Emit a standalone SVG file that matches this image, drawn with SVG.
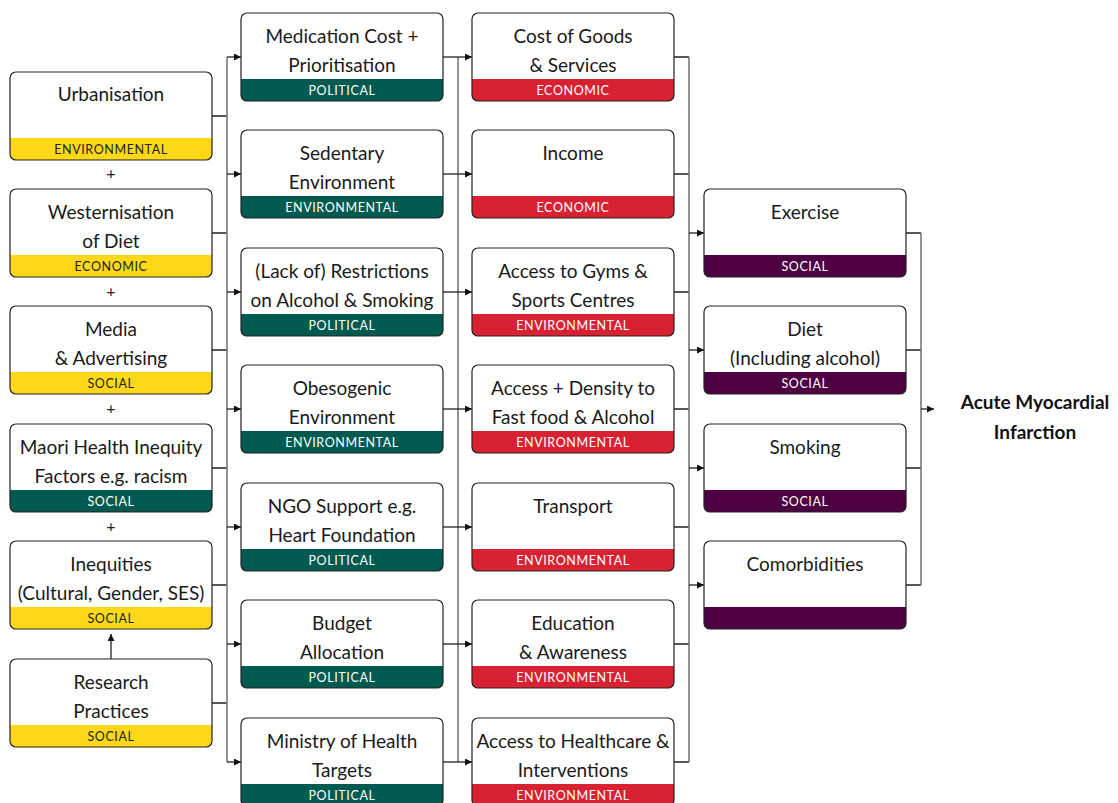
<svg xmlns="http://www.w3.org/2000/svg" width="1118" height="803" viewBox="0 0 1118 803">
  <style>
    .box { fill: none; stroke: #222; stroke-width: 1.2; }
    .bg { fill: #fff; }
    .yellow { fill: #FDD816; }
    .teal { fill: #005A50; }
    .red { fill: #D92231; }
    .purple { fill: #4D0042; }
    .title { font-family: Lato, "Open Sans", sans-serif; font-size: 19px; fill: #1a1a1a; text-anchor: middle; }
    .tag { font-family: Lato, "Open Sans", sans-serif; font-size: 12.5px; letter-spacing: 0.6px; text-anchor: middle; fill: #fff; }
    .tag.dark { fill: #222; }
    .plus { font-family: Lato, "Open Sans", sans-serif; font-size: 16px; fill: #222; text-anchor: middle; }
    .goal { font-family: Lato, "Open Sans", sans-serif; font-size: 19px; font-weight: bold; fill: #111; text-anchor: middle; }
    .stub { stroke: #222; stroke-width: 1.3; fill: none; }
    .bus { stroke: #777; stroke-width: 1.6; fill: none; }
  </style>
  <defs>
    <marker id="arrow" viewBox="0 0 8 8" refX="8" refY="4" markerWidth="7" markerHeight="7" markerUnits="userSpaceOnUse" orient="auto">
      <path d="M0,0 L8,4 L0,8 Z" fill="#111"/>
    </marker>
    <!-- band shape: bottom 22px of a 202x88 card, rounded at the bottom corners -->
    <path id="band" d="M0,66 H202 V82 A6,6 0 0 1 196,88 H6 A6,6 0 0 1 0,82 Z"/>
    <rect id="frame" x="0" y="0" width="202" height="88" rx="6" ry="6"/>
  </defs>

  <rect width="1118" height="803" fill="#fff"/>

  <!-- connectors -->
  <g id="connectors">
    <!-- column 1 into the first bus -->
    <path class="stub" d="M212,116 H227 M212,233 H227 M212,350 H227 M212,468 H227 M212,585 H227 M212,703 H227"/>
    <line class="bus" x1="227" y1="57" x2="227" y2="762"/>
    <g class="stub" marker-end="url(#arrow)">
      <line x1="227" y1="57" x2="241" y2="57"/>
      <line x1="227" y1="174" x2="241" y2="174"/>
      <line x1="227" y1="292" x2="241" y2="292"/>
      <line x1="227" y1="409" x2="241" y2="409"/>
      <line x1="227" y1="527" x2="241" y2="527"/>
      <line x1="227" y1="644" x2="241" y2="644"/>
      <line x1="227" y1="762" x2="241" y2="762"/>
    </g>
    <!-- column 2 into column 3 -->
    <line class="bus" x1="458" y1="57" x2="458" y2="762"/>
    <g class="stub" marker-end="url(#arrow)">
      <line x1="443" y1="57" x2="472" y2="57"/>
      <line x1="443" y1="174" x2="472" y2="174"/>
      <line x1="443" y1="292" x2="472" y2="292"/>
      <line x1="443" y1="409" x2="472" y2="409"/>
      <line x1="443" y1="527" x2="472" y2="527"/>
      <line x1="443" y1="644" x2="472" y2="644"/>
      <line x1="443" y1="762" x2="472" y2="762"/>
    </g>
    <!-- column 3 into column 4 -->
    <path class="stub" d="M674,57 H689 M674,174 H689 M674,292 H689 M674,409 H689 M674,527 H689 M674,644 H689 M674,762 H689"/>
    <line class="bus" x1="689" y1="57" x2="689" y2="762"/>
    <g class="stub" marker-end="url(#arrow)">
      <line x1="689" y1="233" x2="704" y2="233"/>
      <line x1="689" y1="350" x2="704" y2="350"/>
      <line x1="689" y1="468" x2="704" y2="468"/>
      <line x1="689" y1="585" x2="704" y2="585"/>
    </g>
    <!-- column 4 into the outcome -->
    <path class="stub" d="M905,233 H921 M905,350 H921 M905,468 H921 M905,585 H921"/>
    <line class="bus" x1="921" y1="233" x2="921" y2="585"/>
    <line class="stub" x1="921" y1="409" x2="934" y2="409" marker-end="url(#arrow)"/>
    <!-- research practices feeding inequities -->
    <line class="stub" x1="111" y1="659" x2="111" y2="634" marker-end="url(#arrow)"/>
  </g>

  <!-- column 1 -->
  <g id="urbanisation" transform="translate(10,72)">
    <use href="#frame" class="bg"/><use href="#band" class="yellow"/><use href="#frame" class="box"/>
    <text class="title" x="101" y="28.5">Urbanisation</text>
    <text class="tag dark" x="101" y="81.5">ENVIRONMENTAL</text>
  </g>
  <g id="westernisation" transform="translate(10,189)">
    <use href="#frame" class="bg"/><use href="#band" class="yellow"/><use href="#frame" class="box"/>
    <text class="title" x="101" y="29.5">Westernisation</text>
    <text class="title" x="101" y="58.5">of Diet</text>
    <text class="tag dark" x="101" y="81.5">ECONOMIC</text>
  </g>
  <g id="media" transform="translate(10,306)">
    <use href="#frame" class="bg"/><use href="#band" class="yellow"/><use href="#frame" class="box"/>
    <text class="title" x="101" y="29.5">Media</text>
    <text class="title" x="101" y="58.5">&amp; Advertising</text>
    <text class="tag dark" x="101" y="81.5">SOCIAL</text>
  </g>
  <g id="maori-health" transform="translate(10,424)">
    <use href="#frame" class="bg"/><use href="#band" class="teal"/><use href="#frame" class="box"/>
    <text class="title" x="101" y="29.5">Maori Health Inequity</text>
    <text class="title" x="101" y="58.5">Factors e.g. racism</text>
    <text class="tag" x="101" y="81.5">SOCIAL</text>
  </g>
  <g id="inequities" transform="translate(10,541)">
    <use href="#frame" class="bg"/><use href="#band" class="yellow"/><use href="#frame" class="box"/>
    <text class="title" x="101" y="29.5">Inequities</text>
    <text class="title" x="101" y="58.5">(Cultural, Gender, SES)</text>
    <text class="tag dark" x="101" y="81.5">SOCIAL</text>
  </g>
  <g id="research" transform="translate(10,659)">
    <use href="#frame" class="bg"/><use href="#band" class="yellow"/><use href="#frame" class="box"/>
    <text class="title" x="101" y="29.5">Research</text>
    <text class="title" x="101" y="58.5">Practices</text>
    <text class="tag dark" x="101" y="81.5">SOCIAL</text>
  </g>
  <g id="plus-signs">
    <text class="plus" x="111" y="179">+</text>
    <text class="plus" x="111" y="297">+</text>
    <text class="plus" x="111" y="414">+</text>
    <text class="plus" x="111" y="532">+</text>
  </g>

  <!-- column 2 -->
  <g id="medication" transform="translate(241,13)">
    <use href="#frame" class="bg"/><use href="#band" class="teal"/><use href="#frame" class="box"/>
    <text class="title" x="101" y="29.5">Medication Cost +</text>
    <text class="title" x="101" y="58.5">Prioritisation</text>
    <text class="tag" x="101" y="81.5">POLITICAL</text>
  </g>
  <g id="sedentary" transform="translate(241,130)">
    <use href="#frame" class="bg"/><use href="#band" class="teal"/><use href="#frame" class="box"/>
    <text class="title" x="101" y="29.5">Sedentary</text>
    <text class="title" x="101" y="58.5">Environment</text>
    <text class="tag" x="101" y="81.5">ENVIRONMENTAL</text>
  </g>
  <g id="restrictions" transform="translate(241,248)">
    <use href="#frame" class="bg"/><use href="#band" class="teal"/><use href="#frame" class="box"/>
    <text class="title" x="101" y="29.5">(Lack of) Restrictions</text>
    <text class="title" x="101" y="58.5">on Alcohol &amp; Smoking</text>
    <text class="tag" x="101" y="81.5">POLITICAL</text>
  </g>
  <g id="obesogenic" transform="translate(241,365)">
    <use href="#frame" class="bg"/><use href="#band" class="teal"/><use href="#frame" class="box"/>
    <text class="title" x="101" y="29.5">Obesogenic</text>
    <text class="title" x="101" y="58.5">Environment</text>
    <text class="tag" x="101" y="81.5">ENVIRONMENTAL</text>
  </g>
  <g id="ngo-support" transform="translate(241,483)">
    <use href="#frame" class="bg"/><use href="#band" class="teal"/><use href="#frame" class="box"/>
    <text class="title" x="101" y="29.5">NGO Support e.g.</text>
    <text class="title" x="101" y="58.5">Heart Foundation</text>
    <text class="tag" x="101" y="81.5">POLITICAL</text>
  </g>
  <g id="budget" transform="translate(241,600)">
    <use href="#frame" class="bg"/><use href="#band" class="teal"/><use href="#frame" class="box"/>
    <text class="title" x="101" y="29.5">Budget</text>
    <text class="title" x="101" y="58.5">Allocation</text>
    <text class="tag" x="101" y="81.5">POLITICAL</text>
  </g>
  <g id="ministry" transform="translate(241,718)">
    <use href="#frame" class="bg"/><use href="#band" class="teal"/><use href="#frame" class="box"/>
    <text class="title" x="101" y="29.5">Ministry of Health</text>
    <text class="title" x="101" y="58.5">Targets</text>
    <text class="tag" x="101" y="81.5">POLITICAL</text>
  </g>

  <!-- column 3 -->
  <g id="cost-of-goods" transform="translate(472,13)">
    <use href="#frame" class="bg"/><use href="#band" class="red"/><use href="#frame" class="box"/>
    <text class="title" x="101" y="29.5">Cost of Goods</text>
    <text class="title" x="101" y="58.5">&amp; Services</text>
    <text class="tag" x="101" y="81.5">ECONOMIC</text>
  </g>
  <g id="income" transform="translate(472,130)">
    <use href="#frame" class="bg"/><use href="#band" class="red"/><use href="#frame" class="box"/>
    <text class="title" x="101" y="29.5">Income</text>
    <text class="tag" x="101" y="81.5">ECONOMIC</text>
  </g>
  <g id="gyms" transform="translate(472,248)">
    <use href="#frame" class="bg"/><use href="#band" class="red"/><use href="#frame" class="box"/>
    <text class="title" x="101" y="29.5">Access to Gyms &amp;</text>
    <text class="title" x="101" y="58.5">Sports Centres</text>
    <text class="tag" x="101" y="81.5">ENVIRONMENTAL</text>
  </g>
  <g id="fast-food" transform="translate(472,365)">
    <use href="#frame" class="bg"/><use href="#band" class="red"/><use href="#frame" class="box"/>
    <text class="title" x="101" y="29.5">Access + Density to</text>
    <text class="title" x="101" y="58.5">Fast food &amp; Alcohol</text>
    <text class="tag" x="101" y="81.5">ENVIRONMENTAL</text>
  </g>
  <g id="transport" transform="translate(472,483)">
    <use href="#frame" class="bg"/><use href="#band" class="red"/><use href="#frame" class="box"/>
    <text class="title" x="101" y="29.5">Transport</text>
    <text class="tag" x="101" y="81.5">ENVIRONMENTAL</text>
  </g>
  <g id="education" transform="translate(472,600)">
    <use href="#frame" class="bg"/><use href="#band" class="red"/><use href="#frame" class="box"/>
    <text class="title" x="101" y="29.5">Education</text>
    <text class="title" x="101" y="58.5">&amp; Awareness</text>
    <text class="tag" x="101" y="81.5">ENVIRONMENTAL</text>
  </g>
  <g id="healthcare" transform="translate(472,718)">
    <use href="#frame" class="bg"/><use href="#band" class="red"/><use href="#frame" class="box"/>
    <text class="title" x="101" y="29.5">Access to Healthcare &amp;</text>
    <text class="title" x="101" y="58.5">Interventions</text>
    <text class="tag" x="101" y="81.5">ENVIRONMENTAL</text>
  </g>

  <!-- column 4 -->
  <g id="exercise" transform="translate(704,189)">
    <use href="#frame" class="bg"/><use href="#band" class="purple"/><use href="#frame" class="box"/>
    <text class="title" x="101" y="29.5">Exercise</text>
    <text class="tag" x="101" y="81.5">SOCIAL</text>
  </g>
  <g id="diet" transform="translate(704,306)">
    <use href="#frame" class="bg"/><use href="#band" class="purple"/><use href="#frame" class="box"/>
    <text class="title" x="101" y="29.5">Diet</text>
    <text class="title" x="101" y="58.5">(Including alcohol)</text>
    <text class="tag" x="101" y="81.5">SOCIAL</text>
  </g>
  <g id="smoking" transform="translate(704,424)">
    <use href="#frame" class="bg"/><use href="#band" class="purple"/><use href="#frame" class="box"/>
    <text class="title" x="101" y="29.5">Smoking</text>
    <text class="tag" x="101" y="81.5">SOCIAL</text>
  </g>
  <g id="comorbidities" transform="translate(704,541)">
    <use href="#frame" class="bg"/><use href="#band" class="purple"/><use href="#frame" class="box"/>
    <text class="title" x="101" y="29.5">Comorbidities</text>
  </g>

  <!-- outcome -->
  <g id="acute-mi">
    <text class="goal" x="1035" y="409">Acute Myocardial</text>
    <text class="goal" x="1035" y="439">Infarction</text>
  </g>
</svg>
